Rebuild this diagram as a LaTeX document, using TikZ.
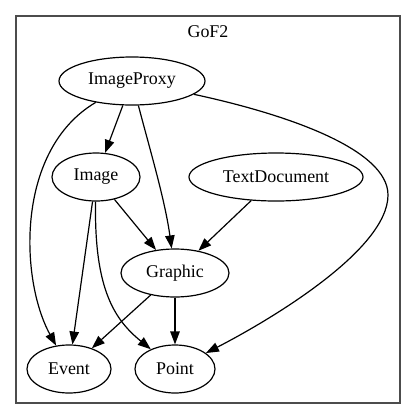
\documentclass[tikz,border=0pt]{standalone}
\usepackage{fontspec}
\setmainfont{Liberation Serif}
\usetikzlibrary{shapes.geometric,arrows.meta}
\begin{document}
\begin{tikzpicture}[x=1bp,y=-1bp,
  nd/.style={draw,ellipse,line width=1.2bp,inner sep=0pt,minimum height=48bp,font=\fontsize{18}{20}\selectfont},
  ed/.style={draw,line width=1.2bp,-{Triangle[length=13bp,width=9.5bp]}},
  cl/.style={draw=black!70,line width=1.5bp}]
\useasboundingbox (0,0) rectangle (416,420);
\draw[cl] (16,16) rectangle (400,403);
\node[font=\fontsize{18}{20}\selectfont] (title) at (208,32) {GoF2};
\node[nd,minimum width=146bp] (ip) at (132,81) {ImageProxy};
\node[nd,minimum width=88bp] (im) at (96,177) {Image};
\node[nd,minimum width=174bp] (td) at (276,177) {TextDocument};
\node[nd,minimum width=108bp] (gr) at (175,273) {Graphic};
\node[nd,minimum width=84bp] (ev) at (69,369) {Event};
\node[nd,minimum width=80bp] (pt) at (175,369) {Point};
\coordinate (bend) at (388,195);
\draw[ed] (ip) -- (im);
\draw[ed] (ip) .. controls (150,150) and (165,200) .. (gr);
\draw[ed] (im) -- (gr);
\draw[ed] (td) -- (gr);
\draw[ed] (im) -- (ev);
\draw[ed] (gr) -- (ev);
\draw[ed] (gr) -- (pt);
\draw[ed] (ip) .. controls (15,150) and (20,280) .. (ev);
\draw[ed] (im) .. controls (94,290) and (115,320) .. (pt);
\draw[ed] (ip) .. controls (290,115) and (388,150) .. (bend) .. controls (388,250) and (270,320) .. (pt);
\end{tikzpicture}
\end{document}
